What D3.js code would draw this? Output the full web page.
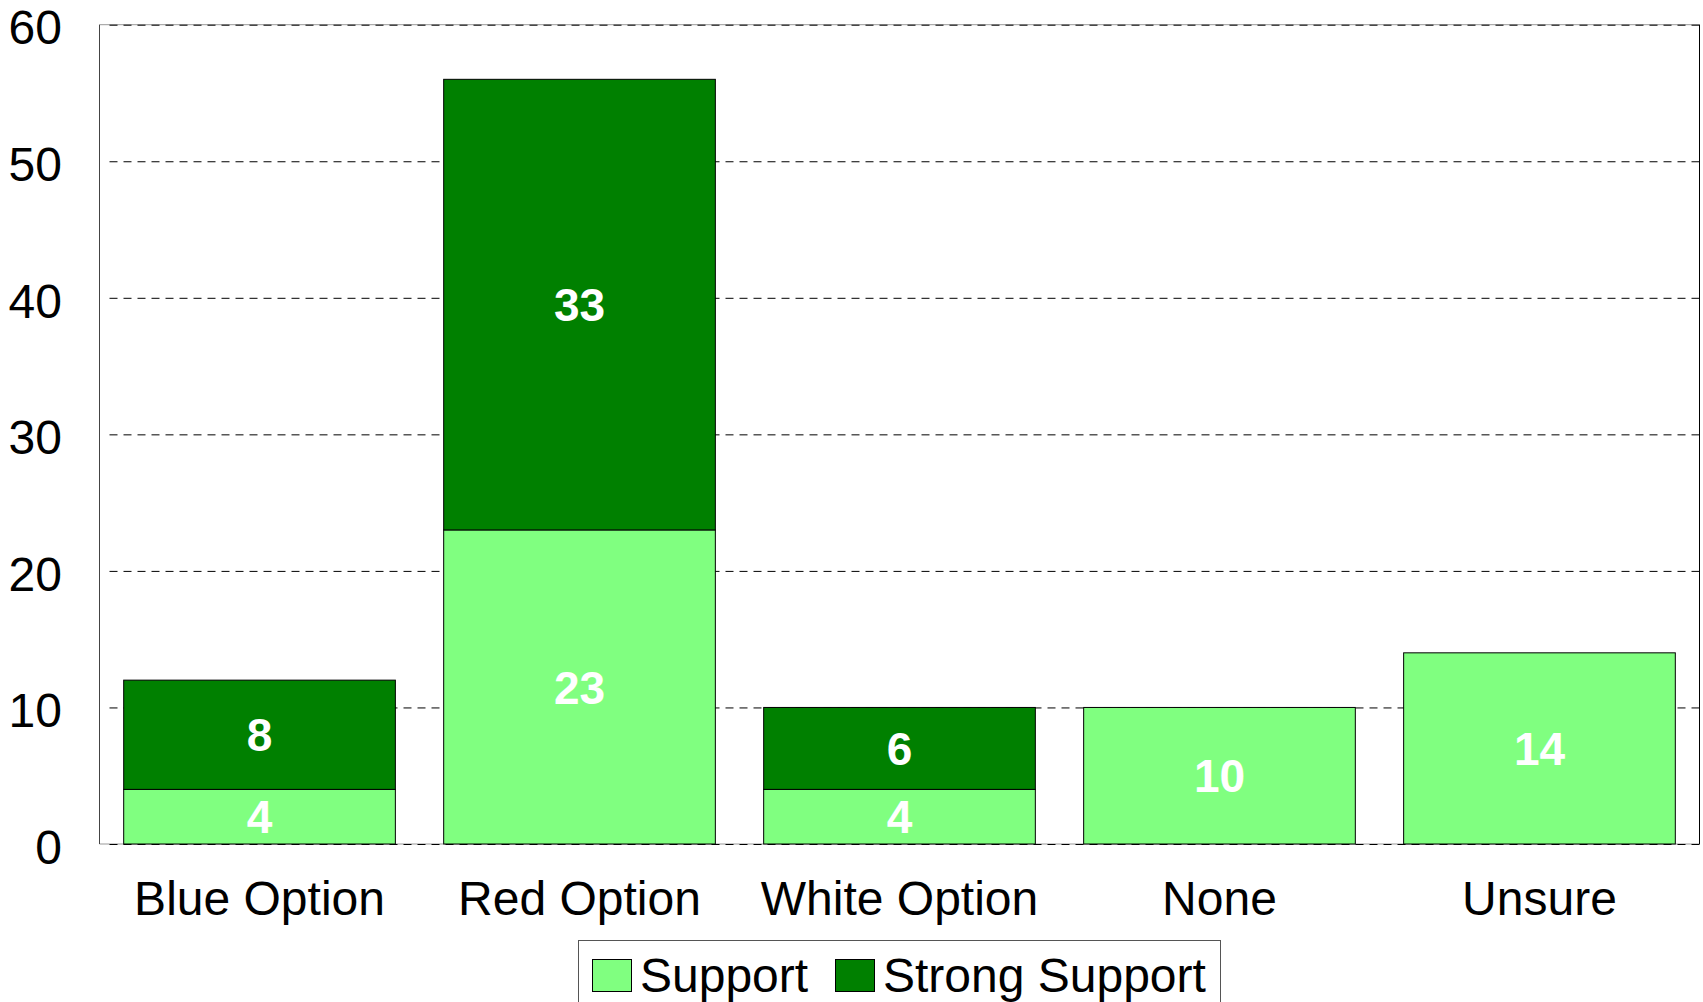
<!DOCTYPE html>
<html>
<head>
<meta charset="utf-8">
<script src="https://cdn.jsdelivr.net/npm/d3@7"></script>
<style>
  html, body { margin: 0; padding: 0; background: #fff; }
  svg { display: block; font-family: "Liberation Sans", Arial, sans-serif; }
</style>
</head>
<body>
<svg id="chart" width="1703" height="1002"></svg>
<script>
const categories = ["Blue Option", "Red Option", "White Option", "None", "Unsure"];
const supportValues = [4, 23, 4, 10, 14];
const strongSupportValues = [8, 33, 6, 0, 0];
const seriesNames = ["Support", "Strong Support"];
const seriesColors = ["#80FF80", "#008000"];
const yTicks = [0, 10, 20, 30, 40, 50, 60];

const svg = d3.select("#chart");
const pLeft = 99.5, pRight = 1699.5, pTop = 24.7, pBottom = 844;

const x = d3.scaleBand().domain(categories).range([pLeft, pRight]).paddingInner(0.151).paddingOuter(0.0756);
const y = d3.scaleLinear().domain([0, 60]).range([pBottom, pTop]);

// frame
svg.append("line").attr("x1", pLeft).attr("x2", pRight).attr("y1", pTop).attr("y2", pTop).attr("stroke", "#999");
svg.append("line").attr("x1", pLeft).attr("x2", pRight).attr("y1", pBottom).attr("y2", pBottom).attr("stroke", "#999");
svg.append("line").attr("x1", pLeft).attr("x2", pLeft).attr("y1", pTop).attr("y2", pBottom).attr("stroke", "#444");
svg.append("line").attr("x1", pRight).attr("x2", pRight).attr("y1", pTop).attr("y2", pBottom).attr("stroke", "#000");

// gridlines
const yAxisGrid = d3.axisLeft(y).tickValues(yTicks).tickSize(pRight - pLeft - 8).tickFormat("");
const gg = svg.append("g").attr("transform", `translate(${pRight},0)`).call(yAxisGrid);
gg.select(".domain").remove();
gg.selectAll(".tick line").attr("stroke", "#000").attr("stroke-dasharray", "8,6");

// y tick labels
const yAxis = d3.axisLeft(y).tickValues(yTicks).tickSize(0).tickPadding(0);
const ya = svg.append("g").attr("transform", `translate(${pLeft - 37.5},0)`).call(yAxis);
ya.select(".domain").remove();
ya.selectAll("text").attr("font-size", 48).attr("font-family", "Liberation Sans, Arial, sans-serif").attr("fill", "#000").attr("dy", "0.4em");

// stacked data
const data = categories.map((c, i) => ({ cat: c, Support: supportValues[i], "Strong Support": strongSupportValues[i] }));
const stacked = d3.stack().keys(seriesNames)(data);

stacked.forEach((layer, li) => {
  const g = svg.append("g");
  layer.forEach(d => {
    const v = d[1] - d[0];
    if (v <= 0) return;
    g.append("rect")
      .attr("x", x(d.data.cat))
      .attr("width", x.bandwidth())
      .attr("y", y(d[1]))
      .attr("height", y(d[0]) - y(d[1]))
      .attr("fill", seriesColors[li])
      .attr("stroke", "#000")
      .attr("stroke-width", 1);
  });
});
stacked.forEach((layer, li) => {
  layer.forEach(d => {
    const v = d[1] - d[0];
    if (v <= 0) return;
    svg.append("text")
      .attr("x", x(d.data.cat) + x.bandwidth() / 2)
      .attr("y", y((d[0] + d[1]) / 2))
      .attr("dy", "0.36em")
      .attr("text-anchor", "middle")
      .attr("font-size", 46)
      .attr("font-weight", "bold")
      .attr("fill", "#fff")
      .text(v);
  });
});

// x labels
const xAxis = d3.axisBottom(x).tickSize(0).tickPadding(0);
const xa = svg.append("g").attr("transform", `translate(0,${pBottom})`).call(xAxis);
xa.select(".domain").remove();
xa.selectAll("text").attr("font-size", 48).attr("font-family", "Liberation Sans, Arial, sans-serif").attr("fill", "#000").attr("dy", null).attr("y", 71);

// legend
const lg = svg.append("g");
lg.append("rect").attr("x", 578.5).attr("y", 940.5).attr("width", 642).attr("height", 80).attr("fill", "#fff").attr("stroke", "#555");
const legendX = [592, 835];
seriesNames.forEach((n, i) => {
  lg.append("rect").attr("x", legendX[i] + 0.5).attr("y", 959.5).attr("width", 39).attr("height", 32).attr("fill", seriesColors[i]).attr("stroke", "#000");
  lg.append("text").attr("x", legendX[i] + 48).attr("y", 991.5).attr("font-size", 48).attr("fill", "#000").text(n);
});
</script>
</body>
</html>
